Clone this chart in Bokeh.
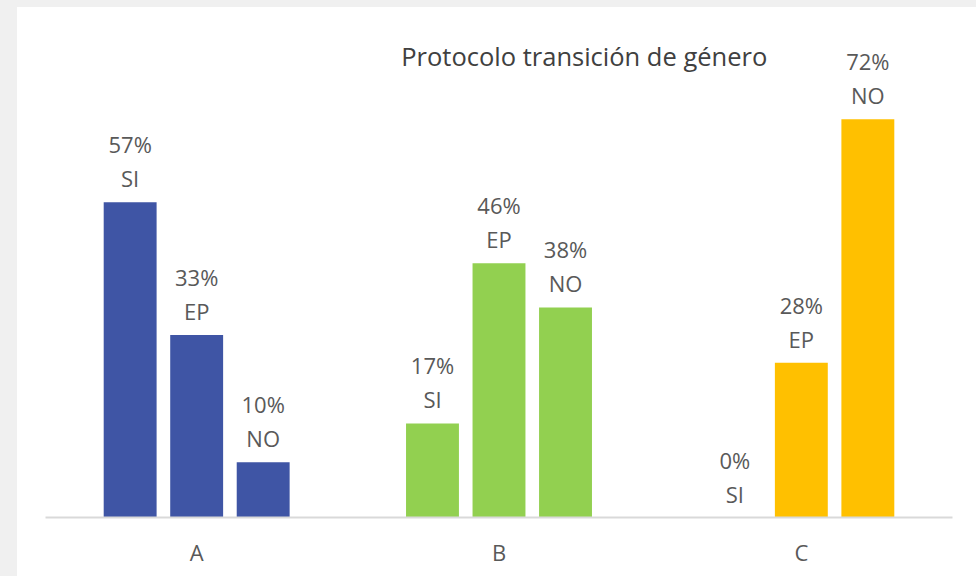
from bokeh.plotting import figure
from bokeh.models import ColumnDataSource, FactorRange, Range1d, Label, Div
from bokeh.layouts import column, row
from bokeh.transform import dodge
from bokeh.core.properties import value
from bokeh.embed import file_html
from bokeh.resources import INLINE

# ---- data ----
categories = ["A", "B", "C"]
series = ["SI", "EP", "NO"]
si_values = [57, 17, 0]
ep_values = [33, 46, 28]
no_values = [10, 38, 72]
group_colors = ["#3F55A5", "#92D050", "#FFC000"]
title_text = "Protocolo transición de género"

FONT = "Open Sans"
LABEL_COLOR = "#595959"
PAGE_GREY = "#f0f0f0"

p = figure(
    x_range=FactorRange(*categories, range_padding=0),
    y_range=Range1d(0, 92.05),
    width=959, height=569,
    output_backend="svg", toolbar_location=None,
    y_axis_location=None,
    min_border_left=28, min_border_right=24,
    min_border_top=1, min_border_bottom=59,
)
p.outline_line_color = None
p.xgrid.visible = False
p.ygrid.visible = False
p.background_fill_color = "white"
p.border_fill_color = "white"

bar_w = 0.175
step = 0.22
offsets = [-step, 0.0, step]
values_by_series = [si_values, ep_values, no_values]

for name, vals, off in zip(series, values_by_series, offsets):
    src = ColumnDataSource(dict(
        x=categories,
        top=vals,
        color=group_colors,
        pct=[f"{v}%" for v in vals],
        lab=[name] * len(vals),
    ))
    xd = dodge("x", off, range=p.x_range)
    p.vbar(x=xd, top="top", width=bar_w, source=src,
           fill_color="color", line_color=None)
    p.text(x=xd, y="top", text="pct", source=src,
           text_font=value(FONT), text_font_size="22px",
           text_color=LABEL_COLOR, text_align="center",
           text_baseline="middle", y_offset=-58)
    p.text(x=xd, y="top", text="lab", source=src,
           text_font=value(FONT), text_font_size="22px",
           text_color=LABEL_COLOR, text_align="center",
           text_baseline="middle", y_offset=-24)

title = Label(x=1.782, y=83.55, text=title_text,
              text_font=FONT, text_font_size="25.5px",
              text_color="#404040", text_align="center",
              text_baseline="middle")
p.add_layout(title)

ax = p.xaxis[0]
ax.axis_line_color = "#d9d9d9"
ax.axis_line_width = 2
ax.major_tick_line_color = None
ax.minor_tick_line_color = None
ax.major_label_text_font = FONT
ax.major_label_text_font_size = "22px"
ax.major_label_text_color = LABEL_COLOR
ax.major_label_standoff = 13

top_strip = Div(text="", width=976, height=7,
                styles={"background-color": PAGE_GREY}, margin=0)
left_strip = Div(text="", width=17, height=569,
                 styles={"background-color": PAGE_GREY}, margin=0)
layout = column(top_strip, row(left_strip, p, spacing=0), spacing=0)

open("out.html", "w").write(file_html(layout, INLINE))
